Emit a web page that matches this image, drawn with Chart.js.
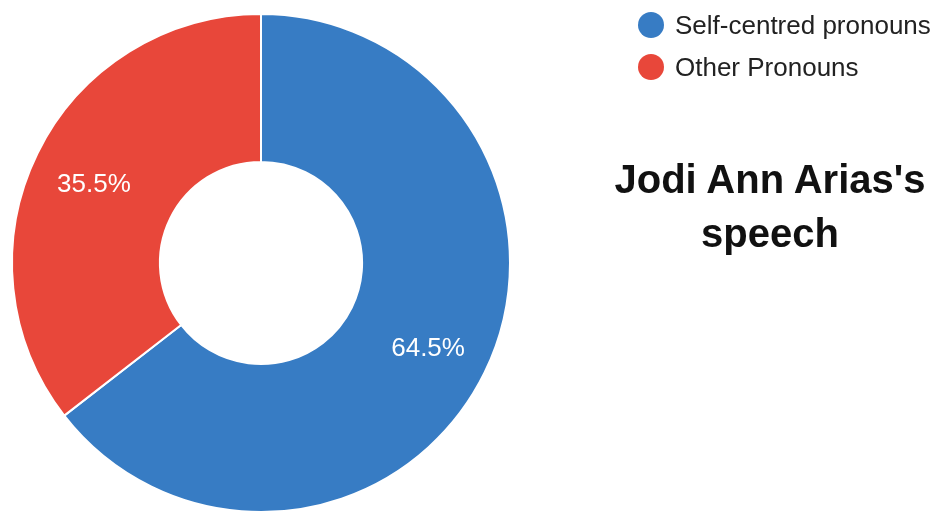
<!DOCTYPE html>
<html>
<head>
<meta charset="utf-8">
<script src="https://cdn.jsdelivr.net/npm/chart.js@4"></script>
<style>
  body { margin: 0; background: #fff; font-family: "Liberation Sans", Arial, sans-serif; }
  #wrap { position: relative; width: 938px; height: 513px; overflow: hidden; }
  #pie { position: absolute; left: 0; top: 0; }
  .leg { position: absolute; left: 638px; height: 30px; line-height: 30px; font-size: 26px; color: #222; white-space: nowrap; }
  .leg i { position: absolute; left: 0; top: 2px; width: 26px; height: 26px; border-radius: 50%; }
  .leg span { position: absolute; left: 37px; top: 0; }
  #title { position: absolute; left: 600px; width: 340px; top: 152px; text-align: center;
           font-size: 40px; font-weight: bold; line-height: 54px; color: #111; }
</style>
</head>
<body>
<div id="wrap">
  <canvas id="pie" width="938" height="513"></canvas>
  <div id="legend"></div>
  <div id="title">Jodi Ann Arias's<br>speech</div>
</div>
<script>
// chart data
const labels = ['Self-centred pronouns', 'Other Pronouns']
const shares = [64.5, 35.5]
const colors = ['#377cc4', '#e8473a']

// legend, built from the same arrays
const legend = document.querySelector('#legend')
labels.forEach((label, i) => {
    const row = document.createElement('div')
    row.className = 'leg'
    row.style.top = (10 + i * 42) + 'px'
    row.innerHTML = '<i style="background:' + colors[i] + '"></i><span>' + label + '</span>'
    legend.appendChild(row)
})

// writes the percentage inside each slice
const sliceLabels = {
    id: 'sliceLabels',
    afterDatasetsDraw(chart) {
        const ctx = chart.ctx
        const meta = chart.getDatasetMeta(0)
        ctx.save()
        ctx.fillStyle = '#fff'
        ctx.font = '26px "Liberation Sans", Arial, sans-serif'
        ctx.textAlign = 'center'
        ctx.textBaseline = 'middle'
        meta.data.forEach((arc, i) => {
            const p = arc.getProps(['x', 'y', 'startAngle', 'endAngle', 'innerRadius', 'outerRadius'], true)
            const mid = (p.startAngle + p.endAngle) / 2
            const r = (p.innerRadius + p.outerRadius) / 2 + 11
            ctx.fillText(shares[i].toFixed(1) + '%', p.x + Math.cos(mid) * r, p.y + Math.sin(mid) * r + 4)
        })
        ctx.restore()
    }
}

new Chart(document.querySelector('#pie').getContext('2d'), {
    type: 'doughnut',
    data: {
        labels: labels,
        datasets: [{
            data: shares,
            backgroundColor: colors,
            borderColor: '#fff',
            borderWidth: 2
        }]
    },
    options: {
        responsive: false,
        animation: false,
        cutout: '40.6%',
        layout: { padding: { top: 13, bottom: 0, left: 11, right: 427 } },
        plugins: {
            legend: { display: false },
            tooltip: { enabled: false }
        }
    },
    plugins: [sliceLabels]
})
</script>
</body>
</html>
